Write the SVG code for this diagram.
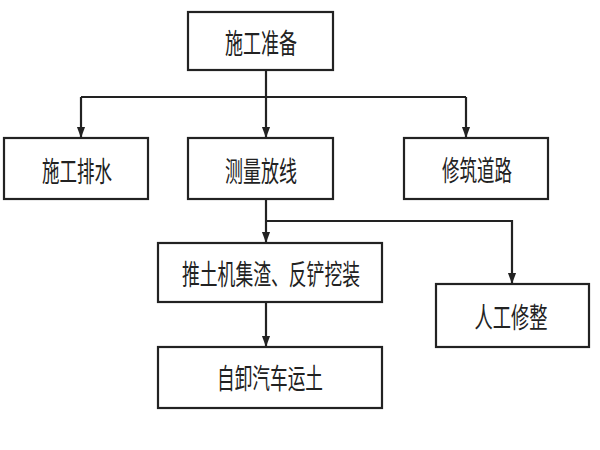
<svg xmlns="http://www.w3.org/2000/svg" width="600" height="450" viewBox="0 0 600 450">
<defs>
<style>
.box{fill:#fff;stroke:#222;stroke-width:2.2}
.lbl{font-family:"Liberation Sans","Noto Sans CJK SC",sans-serif;font-size:28px;fill:#222;text-anchor:middle;dominant-baseline:central}
.ln{fill:none;stroke:#222;stroke-width:2.2}
</style>
<marker id="ah" markerUnits="userSpaceOnUse" markerWidth="11" markerHeight="15" refX="15" refY="5.5" orient="auto" viewBox="0 0 15 11">
<path d="M0,0 L15,5.5 L0,11 Z" fill="#222"/>
</marker>
</defs>
<rect width="600" height="450" fill="#fff"/>
<g id="connectors">
<path class="ln" d="M266,70 V97"/>
<path class="ln" d="M81,97 H466"/>
<path class="ln" d="M81,97 V138" marker-end="url(#ah)"/>
<path class="ln" d="M266,97 V138" marker-end="url(#ah)"/>
<path class="ln" d="M466,97 V138" marker-end="url(#ah)"/>
<path class="ln" d="M266,199 V243" marker-end="url(#ah)"/>
<path class="ln" d="M266,221 H512 V284" marker-end="url(#ah)"/>
<path class="ln" d="M266,302 V347" marker-end="url(#ah)"/>
</g>
<g id="n1"><rect class="box" x="188" y="12" width="145" height="58"/><text class="lbl" x="261" y="44" textLength="72" lengthAdjust="spacingAndGlyphs">施工准备</text></g>
<g id="n2"><rect class="box" x="4" y="138" width="144" height="61"/><text class="lbl" x="77" y="172" textLength="70" lengthAdjust="spacingAndGlyphs">施工排水</text></g>
<g id="n3"><rect class="box" x="188" y="138" width="145" height="61"/><text class="lbl" x="261" y="172" textLength="72" lengthAdjust="spacingAndGlyphs">测量放线</text></g>
<g id="n4"><rect class="box" x="404" y="138" width="144" height="61"/><text class="lbl" x="477" y="171" textLength="70" lengthAdjust="spacingAndGlyphs">修筑道路</text></g>
<g id="n5"><rect class="box" x="158" y="243" width="224" height="59"/><text class="lbl" x="271" y="275" textLength="178" lengthAdjust="spacingAndGlyphs">推土机集渣、反铲挖装</text></g>
<g id="n6"><rect class="box" x="436" y="284" width="153" height="63"/><text class="lbl" x="511" y="318" textLength="73" lengthAdjust="spacingAndGlyphs">人工修整</text></g>
<g id="n7"><rect class="box" x="158" y="347" width="224" height="61"/><text class="lbl" x="270" y="379" textLength="106" lengthAdjust="spacingAndGlyphs">自卸汽车运土</text></g>
</svg>
